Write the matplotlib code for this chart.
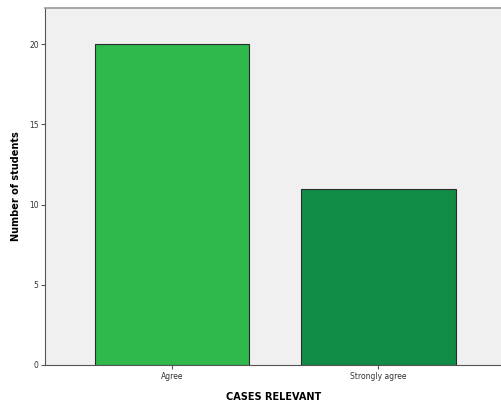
import numpy as np
import matplotlib.pyplot as plt

# data
categories = ["Agree", "Strongly agree"]
counts = [20, 11]
bar_colors = ["#2fb84b", "#118c47"]

fig = plt.figure(figsize=(5.02, 4.03), dpi=100)
ax = fig.add_axes([0.0896, 0.0943, 0.9104, 0.8857])
ax.set_facecolor("#f0f0f0")

x = np.arange(len(categories))
ax.bar(x, counts, width=0.75, color=bar_colors, edgecolor="#2b2b2b", linewidth=0.8, zorder=2)

ax.set_xlim(-0.617, 1.6)
ax.set_ylim(0, 22.25)
ax.set_yticks([0, 5, 10, 15, 20])
ax.set_xticks(x)
ax.set_xticklabels(categories)

ax.tick_params(axis="both", labelsize=5.5, labelcolor="#333333", color="#555555",
               length=3, width=0.8, direction="out")
ax.tick_params(axis="x", pad=2)
ax.tick_params(axis="y", pad=1.5)

ax.spines["right"].set_visible(False)
ax.spines["top"].set_color("#9a9a9a")
ax.spines["top"].set_linewidth(1.2)
ax.spines["left"].set_color("#555555")
ax.spines["bottom"].set_color("#555555")

ax.set_ylabel("Number of students", fontsize=7, fontweight="bold", labelpad=6)
ax.set_xlabel("CASES RELEVANT", fontsize=7, fontweight="bold", labelpad=8)

fig.savefig("out.png", dpi=100)
